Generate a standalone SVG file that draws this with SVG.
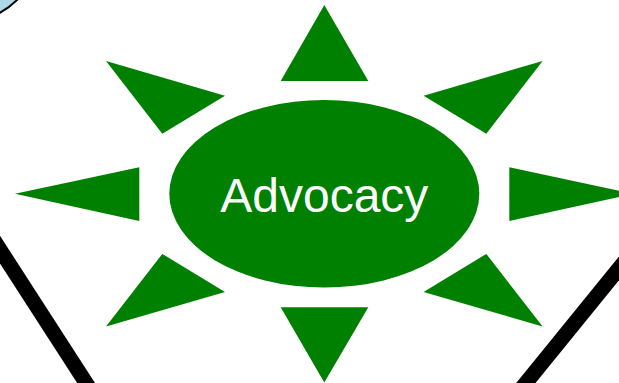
<svg xmlns="http://www.w3.org/2000/svg" width="619" height="383" viewBox="0 0 619 383">
  <style>
    .ray { fill: #008000; stroke: none; }
    .band { stroke: #000000; stroke-width: 15; fill: none; }
    .label { font-family: "Liberation Sans", Arial, sans-serif; font-size: 48px; fill: #ffffff; text-anchor: middle; }
  </style>
  <rect width="619" height="383" fill="#ffffff"/>
  <g id="background">
    <circle cx="-40" cy="-58.6" r="81.8" fill="#add8e6" stroke="#000000" stroke-width="2"/>
    <line class="band" x1="-20" y1="218.7" x2="110" y2="420"/>
    <line class="band" x1="640" y1="242.6" x2="500" y2="414.8"/>
  </g>
  <g id="rays">
    <polygon class="ray" points="324.3,5 368.3,81 280.7,81"/>
    <polygon class="ray" points="106,61 225,95.7 162.3,133.7"/>
    <polygon class="ray" points="542.6,61 423.6,95.7 486.3,133.7"/>
    <polygon class="ray" points="15,193.8 139.3,167.3 139.3,221"/>
    <polygon class="ray" points="633.6,193.8 509.3,167.3 509.3,221"/>
    <polygon class="ray" points="106,326.6 225,291.9 162.3,253.9"/>
    <polygon class="ray" points="542.6,326.6 423.6,291.9 486.3,253.9"/>
    <polygon class="ray" points="324.3,382.6 368.3,307.3 280.7,307.3"/>
  </g>
  <g id="advocacy">
    <ellipse cx="324.3" cy="193.8" rx="155" ry="93.8" fill="#008000"/>
    <text class="label" x="324.3" y="211.7">Advocacy</text>
  </g>
</svg>
